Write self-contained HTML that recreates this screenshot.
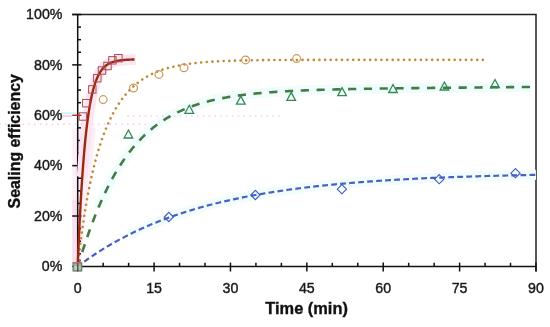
<!DOCTYPE html>
<html><head><meta charset="utf-8"><style>
html,body{margin:0;padding:0;background:#fff;}
svg{display:block;}
.tl{font-family:"Liberation Sans",sans-serif;font-size:14.2px;fill:#1a1a1a;stroke:#1a1a1a;stroke-width:0.4px;}
.at{font-family:"Liberation Sans",sans-serif;font-size:16.4px;font-weight:bold;fill:#111;stroke:#111;stroke-width:0.35px;}
</style></head><body>
<svg width="550" height="327" viewBox="0 0 550 327">
<path d="M72.3 262V128H96L90 180L81 262Z" fill="#fdeef7"/>
<rect x="72.3" y="200" width="5.2" height="62" fill="#fadff0"/>
<path d="M72.2 14.5H536V271.5" fill="none" stroke="#222" stroke-width="1.5"/>
<path d="M77.7 14.5V266.4H536" fill="none" stroke="#111" stroke-width="1.5"/>
<path d="M72.2 266.40H81.5" stroke="#111" stroke-width="1.5"/>
<path d="M77.7 253.80H81" stroke="#111" stroke-width="1.5"/>
<path d="M77.7 241.21H81" stroke="#111" stroke-width="1.5"/>
<path d="M77.7 228.61H81" stroke="#111" stroke-width="1.5"/>
<path d="M72.2 216.02H81.5" stroke="#111" stroke-width="1.5"/>
<path d="M77.7 203.42H81" stroke="#111" stroke-width="1.5"/>
<path d="M77.7 190.83H81" stroke="#111" stroke-width="1.5"/>
<path d="M77.7 178.23H81" stroke="#111" stroke-width="1.5"/>
<path d="M72.2 165.64H81.5" stroke="#111" stroke-width="1.5"/>
<path d="M77.7 153.04H81" stroke="#111" stroke-width="1.5"/>
<path d="M77.7 140.45H81" stroke="#111" stroke-width="1.5"/>
<path d="M77.7 127.85H81" stroke="#111" stroke-width="1.5"/>
<path d="M72.2 115.26H81.5" stroke="#c8202e" stroke-width="1.5"/>
<path d="M77.7 102.66H81" stroke="#111" stroke-width="1.5"/>
<path d="M77.7 90.07H81" stroke="#111" stroke-width="1.5"/>
<path d="M77.7 77.47H81" stroke="#111" stroke-width="1.5"/>
<path d="M72.2 64.88H81.5" stroke="#111" stroke-width="1.5"/>
<path d="M77.7 52.28H81" stroke="#111" stroke-width="1.5"/>
<path d="M77.7 39.69H81" stroke="#111" stroke-width="1.5"/>
<path d="M77.7 27.09H81" stroke="#111" stroke-width="1.5"/>
<path d="M72.2 14.50H81.5" stroke="#111" stroke-width="1.5"/>
<path d="M77.70 262.6V271.5" stroke="#111" stroke-width="1.5"/>
<path d="M103.16 262.8V266.4" stroke="#111" stroke-width="1.5"/>
<path d="M128.62 262.8V266.4" stroke="#111" stroke-width="1.5"/>
<path d="M154.08 262.6V271.5" stroke="#111" stroke-width="1.5"/>
<path d="M179.54 262.8V266.4" stroke="#111" stroke-width="1.5"/>
<path d="M205.00 262.8V266.4" stroke="#111" stroke-width="1.5"/>
<path d="M230.46 262.6V271.5" stroke="#111" stroke-width="1.5"/>
<path d="M255.92 262.8V266.4" stroke="#111" stroke-width="1.5"/>
<path d="M281.38 262.8V266.4" stroke="#111" stroke-width="1.5"/>
<path d="M306.84 262.6V271.5" stroke="#111" stroke-width="1.5"/>
<path d="M332.30 262.8V266.4" stroke="#111" stroke-width="1.5"/>
<path d="M357.76 262.8V266.4" stroke="#111" stroke-width="1.5"/>
<path d="M383.22 262.6V271.5" stroke="#111" stroke-width="1.5"/>
<path d="M408.68 262.8V266.4" stroke="#111" stroke-width="1.5"/>
<path d="M434.14 262.8V266.4" stroke="#111" stroke-width="1.5"/>
<path d="M459.60 262.6V271.5" stroke="#111" stroke-width="1.5"/>
<path d="M485.06 262.8V266.4" stroke="#111" stroke-width="1.5"/>
<path d="M510.52 262.8V266.4" stroke="#111" stroke-width="1.5"/>
<path d="M535.98 262.6V271.5" stroke="#111" stroke-width="1.5"/>
<path d="M61 113.3H76" stroke="#c6f5f5" stroke-width="2"/><path d="M61 116.2H72" stroke="#fccbed" stroke-width="2"/>
<polyline points="82.28,176.74 83.17,164.47 84.06,153.49 84.96,143.65 85.85,134.84 86.74,126.95 87.63,119.89 88.52,113.56 89.41,107.89 90.30,102.82 91.19,98.27 92.08,94.21 92.98,90.56 93.87,87.30 94.76,84.37 95.65,81.76 96.54,79.41 97.43,77.31 98.32,75.43 99.21,73.75 100.10,72.24 101.00,70.89 101.89,69.68 102.78,68.60 103.67,67.63 104.56,66.76 105.45,65.98 106.34,65.29 107.23,64.66 108.12,64.10 109.02,63.60 109.91,63.15 110.80,62.75 111.69,62.39 112.58,62.07 113.47,61.78 114.36,61.53 115.25,61.29 116.14,61.09 117.04,60.90 117.93,60.74 118.82,60.59 119.71,60.45 120.60,60.34 121.49,60.23 122.38,60.13 123.27,60.05 124.16,59.97 125.06,59.90 125.95,59.84 126.84,59.79 127.73,59.74 128.62,59.69 129.51,59.65 130.40,59.62 131.29,59.59 132.18,59.56 133.08,59.53 133.97,59.51 134.86,59.49 135.75,59.47" fill="none" stroke="#fce4f1" stroke-width="11" stroke-linejoin="round"/>
<polyline points="128.62,234.85 132.69,232.84 136.77,230.89 140.84,229.01 144.91,227.19 148.99,225.43 153.06,223.72 157.14,222.07 161.21,220.47 165.28,218.93 169.36,217.43 173.43,215.98 177.50,214.58 181.58,213.22 185.65,211.91 189.72,210.64 193.80,209.41 197.87,208.22 201.94,207.07 206.02,205.96 210.09,204.88 214.17,203.84 218.24,202.83 222.31,201.85 226.39,200.91 230.46,199.99 234.53,199.10 238.61,198.25 242.68,197.42 246.75,196.62 250.83,195.84 254.90,195.09 258.98,194.36 263.05,193.66 267.12,192.97 271.20,192.31 275.27,191.68 279.34,191.06 283.42,190.46 287.49,189.88 291.56,189.32 295.64,188.78 299.71,188.26 303.78,187.75 307.86,187.26 311.93,186.78 316.01,186.32 320.08,185.88 324.15,185.45 328.23,185.03 332.30,184.63 336.37,184.24 340.45,183.86 344.52,183.50 348.59,183.14 352.67,182.80 356.74,182.47 360.82,182.15 364.89,181.84 368.96,181.54 373.04,181.25 377.11,180.96 381.18,180.69 385.26,180.43 389.33,180.17 393.40,179.93 397.48,179.69 401.55,179.46 405.62,179.23 409.70,179.02 413.77,178.81 417.85,178.61 421.92,178.41 425.99,178.22 430.07,178.04 434.14,177.86 438.21,177.69 442.29,177.52 446.36,177.36 450.43,177.20 454.51,177.05 458.58,176.91 462.66,176.76 466.73,176.63 470.80,176.50 474.88,176.37 478.95,176.24 483.02,176.12 487.10,176.01 491.17,175.90 495.24,175.79 499.32,175.68 503.39,175.58 507.46,175.48 511.54,175.39 515.61,175.29 519.69,175.20 523.76,175.12 527.83,175.03 531.91,174.95 535.98,174.87" fill="none" stroke="#f1fdfd" stroke-width="10"/>
<polyline points="98.07,208.52 102.40,198.56 106.72,189.39 111.05,180.95 115.38,173.20 119.71,166.08 124.04,159.54 128.37,153.54 132.69,148.05 137.02,143.01 141.35,138.40 145.68,134.18 150.01,130.31 154.33,126.77 158.66,123.53 162.99,120.57 167.32,117.86 171.65,115.38 175.98,113.11 180.30,111.04 184.63,109.15 188.96,107.41 193.29,105.83 197.62,104.38 201.94,103.06 206.27,101.84 210.60,100.73 214.93,99.72 219.26,98.79 223.59,97.94 227.91,97.17 232.24,96.45 236.57,95.80 240.90,95.21 245.23,94.66 249.56,94.16 253.88,93.69 258.21,93.27 262.54,92.88 266.87,92.53 271.20,92.20 275.52,91.89 279.85,91.61 284.18,91.36 288.51,91.12 292.84,90.90 297.17,90.70 301.49,90.51 305.82,90.33 310.15,90.17 314.48,90.02 318.81,89.88 323.13,89.74 327.46,89.62 331.79,89.50 336.12,89.39 340.45,89.29 344.78,89.20 349.10,89.10 353.43,89.02 357.76,88.93 362.09,88.86 366.42,88.78 370.74,88.71 375.07,88.64 379.40,88.58 383.73,88.51 388.06,88.45 392.39,88.39 396.71,88.33 401.04,88.28 405.37,88.23 409.70,88.17 414.03,88.12 418.35,88.07 422.68,88.02 427.01,87.97 431.34,87.93 435.67,87.88 440.00,87.83 444.32,87.79 448.65,87.74 452.98,87.70 457.31,87.66 461.64,87.61 465.96,87.57 470.29,87.53 474.62,87.49 478.95,87.44 483.28,87.40 487.61,87.36 491.93,87.32 496.26,87.28 500.59,87.24 504.92,87.20 509.25,87.16 513.58,87.12 517.90,87.08 522.23,87.04 526.56,87.00 530.89,86.96" fill="none" stroke="#f1fdfd" stroke-width="10"/>
<path d="M0 124.3H150M128 116.1H280" stroke="#fbd0ee" stroke-width="1.9" stroke-dasharray="0.01 5.8" stroke-linecap="round"/>
<polyline points="77.70,266.40 78.85,265.54 79.99,264.69 81.14,263.84 82.28,263.00 83.43,262.17 84.57,261.35 85.72,260.53 86.87,259.73 88.01,258.93 89.16,258.13 90.30,257.35 91.45,256.57 92.59,255.80 93.74,255.03 94.89,254.28 96.03,253.53 97.18,252.78 98.32,252.05 99.47,251.32 100.61,250.60 101.76,249.88 102.91,249.17 104.05,248.47 105.20,247.77 106.34,247.08 107.49,246.39 108.63,245.72 109.78,245.05 110.93,244.38 112.07,243.72 113.22,243.07 114.36,242.42 115.51,241.78 116.65,241.14 117.80,240.51 118.95,239.89 120.09,239.27 121.24,238.66 122.38,238.05 123.53,237.45 124.67,236.86 125.82,236.27 126.97,235.68 128.11,235.10 129.26,234.53 130.40,233.96 131.55,233.39 132.69,232.84 133.84,232.28 134.99,231.73 136.13,231.19 137.28,230.65 138.42,230.12 139.57,229.59 140.71,229.07 141.86,228.55 143.00,228.03 144.15,227.53 145.30,227.02 146.44,226.52 147.59,226.02 148.73,225.53 149.88,225.05 151.02,224.57 152.17,224.09 153.32,223.62 154.46,223.15 155.61,222.68 156.75,222.22 157.90,221.77 159.04,221.31 160.19,220.87 161.34,220.42 162.48,219.98 163.63,219.55 164.77,219.12 165.92,218.69 167.06,218.27 168.21,217.85 169.36,217.43 170.50,217.02 171.65,216.61 172.79,216.20 173.94,215.80 175.08,215.41 176.23,215.01 177.38,214.62 178.52,214.24 179.67,213.85 180.81,213.48 181.96,213.10 183.10,212.73 184.25,212.36 185.40,211.99 186.54,211.63 187.69,211.27 188.83,210.92 189.98,210.56 191.12,210.22 192.27,209.87 193.42,209.53 194.56,209.19 195.71,208.85 196.85,208.52 198.00,208.19 199.14,207.86 200.29,207.54 201.44,207.21 202.58,206.90 203.73,206.58 204.87,206.27 206.02,205.96 207.16,205.65 208.31,205.35 209.46,205.05 210.60,204.75 211.75,204.45 212.89,204.16 214.04,203.87 215.18,203.58 216.33,203.30 217.48,203.01 218.62,202.73 219.77,202.46 220.91,202.18 222.06,201.91 223.20,201.64 224.35,201.37 225.50,201.11 226.64,200.85 227.79,200.59 228.93,200.33 230.08,200.07 231.22,199.82 232.37,199.57 233.52,199.32 234.66,199.08 235.81,198.83 236.95,198.59 238.10,198.35 239.24,198.12 240.39,197.88 241.54,197.65 242.68,197.42 243.83,197.19 244.97,196.96 246.12,196.74 247.26,196.52 248.41,196.30 249.56,196.08 250.70,195.86 251.85,195.65 252.99,195.44 254.14,195.23 255.28,195.02 256.43,194.81 257.57,194.61 258.72,194.40 259.87,194.20 261.01,194.00 262.16,193.81 263.30,193.61 264.45,193.42 265.59,193.23 266.74,193.04 267.89,192.85 269.03,192.66 270.18,192.48 271.32,192.29 272.47,192.11 273.61,191.93 274.76,191.76 275.91,191.58 277.05,191.40 278.20,191.23 279.34,191.06 280.49,190.89 281.63,190.72 282.78,190.55 283.93,190.39 285.07,190.22 286.22,190.06 287.36,189.90 288.51,189.74 289.65,189.58 290.80,189.43 291.95,189.27 293.09,189.12 294.24,188.97 295.38,188.82 296.53,188.67 297.67,188.52 298.82,188.37 299.97,188.23 301.11,188.08 302.26,187.94 303.40,187.80 304.55,187.66 305.69,187.52 306.84,187.38 307.99,187.24 309.13,187.11 310.28,186.98 311.42,186.84 312.57,186.71 313.71,186.58 314.86,186.45 316.01,186.32 317.15,186.20 318.30,186.07 319.44,185.95 320.59,185.82 321.73,185.70 322.88,185.58 324.03,185.46 325.17,185.34 326.32,185.23 327.46,185.11 328.61,184.99 329.75,184.88 330.90,184.77 332.05,184.65 333.19,184.54 334.34,184.43 335.48,184.32 336.63,184.21 337.77,184.11 338.92,184.00 340.07,183.90 341.21,183.79 342.36,183.69 343.50,183.59 344.65,183.48 345.79,183.38 346.94,183.28 348.09,183.19 349.23,183.09 350.38,182.99 351.52,182.89 352.67,182.80 353.81,182.70 354.96,182.61 356.11,182.52 357.25,182.43 358.40,182.34 359.54,182.25 360.69,182.16 361.83,182.07 362.98,181.98 364.12,181.89 365.27,181.81 366.42,181.72 367.56,181.64 368.71,181.56 369.85,181.47 371.00,181.39 372.14,181.31 373.29,181.23 374.44,181.15 375.58,181.07 376.73,180.99 377.87,180.91 379.02,180.84 380.16,180.76 381.31,180.68 382.46,180.61 383.60,180.54 384.75,180.46 385.89,180.39 387.04,180.32 388.18,180.25 389.33,180.17 390.48,180.10 391.62,180.03 392.77,179.97 393.91,179.90 395.06,179.83 396.20,179.76 397.35,179.70 398.50,179.63 399.64,179.57 400.79,179.50 401.93,179.44 403.08,179.37 404.22,179.31 405.37,179.25 406.52,179.19 407.66,179.13 408.81,179.06 409.95,179.00 411.10,178.95 412.24,178.89 413.39,178.83 414.54,178.77 415.68,178.71 416.83,178.66 417.97,178.60 419.12,178.54 420.26,178.49 421.41,178.43 422.56,178.38 423.70,178.33 424.85,178.27 425.99,178.22 427.14,178.17 428.28,178.12 429.43,178.06 430.58,178.01 431.72,177.96 432.87,177.91 434.01,177.86 435.16,177.82 436.30,177.77 437.45,177.72 438.60,177.67 439.74,177.62 440.89,177.58 442.03,177.53 443.18,177.48 444.32,177.44 445.47,177.39 446.62,177.35 447.76,177.30 448.91,177.26 450.05,177.22 451.20,177.17 452.34,177.13 453.49,177.09 454.64,177.05 455.78,177.01 456.93,176.97 458.07,176.92 459.22,176.88 460.36,176.84 461.51,176.80 462.66,176.76 463.80,176.73 464.95,176.69 466.09,176.65 467.24,176.61 468.38,176.57 469.53,176.54 470.68,176.50 471.82,176.46 472.97,176.43 474.11,176.39 475.26,176.36 476.40,176.32 477.55,176.29 478.69,176.25 479.84,176.22 480.99,176.18 482.13,176.15 483.28,176.12 484.42,176.08 485.57,176.05 486.71,176.02 487.86,175.99 489.01,175.95 490.15,175.92 491.30,175.89 492.44,175.86 493.59,175.83 494.73,175.80 495.88,175.77 497.03,175.74 498.17,175.71 499.32,175.68 500.46,175.65 501.61,175.62 502.75,175.60 503.90,175.57 505.05,175.54 506.19,175.51 507.34,175.48 508.48,175.46 509.63,175.43 510.77,175.40 511.92,175.38 513.07,175.35 514.21,175.32 515.36,175.30 516.50,175.27 517.65,175.25 518.79,175.22 519.94,175.20 521.09,175.17 522.23,175.15 523.38,175.13 524.52,175.10 525.67,175.08 526.81,175.05 527.96,175.03 529.11,175.01 530.25,174.99 531.40,174.96 532.54,174.94 533.69,174.92 534.83,174.90 535.98,174.87" fill="none" stroke="#4b5ec2" stroke-width="2.2" stroke-dasharray="5.8 3.225" stroke-dashoffset="0.9"/>
<polyline points="77.70,266.40 78.83,262.90 79.97,259.31 81.10,255.73 82.23,252.18 83.36,248.68 84.50,245.23 85.63,241.84 86.76,238.51 87.90,235.23 89.03,232.02 90.16,228.86 91.30,225.77 92.43,222.73 93.56,219.76 94.69,216.85 95.83,213.99 96.96,211.19 98.09,208.45 99.23,205.77 100.36,203.15 101.49,200.58 102.63,198.06 103.76,195.60 104.89,193.18 106.02,190.83 107.16,188.52 108.29,186.26 109.42,184.05 110.56,181.89 111.69,179.77 112.82,177.70 113.96,175.68 115.09,173.70 116.22,171.77 117.35,169.88 118.49,168.03 119.62,166.22 120.75,164.45 121.89,162.72 123.02,161.03 124.15,159.37 125.28,157.76 126.42,156.18 127.55,154.63 128.68,153.12 129.82,151.65 130.95,150.21 132.08,148.80 133.22,147.42 134.35,146.07 135.48,144.75 136.61,143.47 137.75,142.21 138.88,140.98 140.01,139.78 141.15,138.61 142.28,137.46 143.41,136.34 144.55,135.25 145.68,134.18 146.81,133.13 147.94,132.11 149.08,131.11 150.21,130.14 151.34,129.18 152.48,128.25 153.61,127.34 154.74,126.45 155.87,125.58 157.01,124.74 158.14,123.91 159.27,123.10 160.41,122.31 161.54,121.53 162.67,120.78 163.81,120.04 164.94,119.32 166.07,118.62 167.20,117.93 168.34,117.26 169.47,116.60 170.60,115.96 171.74,115.33 172.87,114.72 174.00,114.12 175.14,113.54 176.27,112.97 177.40,112.41 178.53,111.87 179.67,111.34 180.80,110.82 181.93,110.31 183.07,109.81 184.20,109.33 185.33,108.86 186.47,108.39 187.60,107.94 188.73,107.50 189.86,107.07 191.00,106.65 192.13,106.24 193.26,105.84 194.40,105.45 195.53,105.06 196.66,104.69 197.79,104.32 198.93,103.97 200.06,103.62 201.19,103.28 202.33,102.94 203.46,102.62 204.59,102.30 205.73,101.99 206.86,101.69 207.99,101.39 209.12,101.10 210.26,100.82 211.39,100.54 212.52,100.27 213.66,100.01 214.79,99.75 215.92,99.50 217.06,99.25 218.19,99.01 219.32,98.78 220.45,98.55 221.59,98.33 222.72,98.11 223.85,97.89 224.99,97.68 226.12,97.48 227.25,97.28 228.39,97.09 229.52,96.90 230.65,96.71 231.78,96.53 232.92,96.35 234.05,96.18 235.18,96.01 236.32,95.84 237.45,95.68 238.58,95.52 239.71,95.36 240.85,95.21 241.98,95.06 243.11,94.92 244.25,94.78 245.38,94.64 246.51,94.50 247.65,94.37 248.78,94.24 249.91,94.12 251.04,93.99 252.18,93.87 253.31,93.75 254.44,93.64 255.58,93.53 256.71,93.41 257.84,93.31 258.98,93.20 260.11,93.10 261.24,93.00 262.37,92.90 263.51,92.80 264.64,92.71 265.77,92.61 266.91,92.52 268.04,92.43 269.17,92.35 270.30,92.26 271.44,92.18 272.57,92.10 273.70,92.02 274.84,91.94 275.97,91.86 277.10,91.79 278.24,91.72 279.37,91.64 280.50,91.57 281.63,91.51 282.77,91.44 283.90,91.37 285.03,91.31 286.17,91.25 287.30,91.18 288.43,91.12 289.57,91.06 290.70,91.01 291.83,90.95 292.96,90.89 294.10,90.84 295.23,90.78 296.36,90.73 297.50,90.68 298.63,90.63 299.76,90.58 300.90,90.53 302.03,90.48 303.16,90.44 304.29,90.39 305.43,90.35 306.56,90.30 307.69,90.26 308.83,90.22 309.96,90.18 311.09,90.13 312.22,90.09 313.36,90.06 314.49,90.02 315.62,89.98 316.76,89.94 317.89,89.90 319.02,89.87 320.16,89.83 321.29,89.80 322.42,89.76 323.55,89.73 324.69,89.70 325.82,89.67 326.95,89.63 328.09,89.60 329.22,89.57 330.35,89.54 331.49,89.51 332.62,89.48 333.75,89.45 334.88,89.43 336.02,89.40 337.15,89.37 338.28,89.34 339.42,89.32 340.55,89.29 341.68,89.26 342.81,89.24 343.95,89.21 345.08,89.19 346.21,89.16 347.35,89.14 348.48,89.12 349.61,89.09 350.75,89.07 351.88,89.05 353.01,89.03 354.14,89.00 355.28,88.98 356.41,88.96 357.54,88.94 358.68,88.92 359.81,88.90 360.94,88.88 362.08,88.86 363.21,88.84 364.34,88.82 365.47,88.80 366.61,88.78 367.74,88.76 368.87,88.74 370.01,88.72 371.14,88.70 372.27,88.69 373.41,88.67 374.54,88.65 375.67,88.63 376.80,88.61 377.94,88.60 379.07,88.58 380.20,88.56 381.34,88.55 382.47,88.53 383.60,88.51 384.73,88.50 385.87,88.48 387.00,88.47 388.13,88.45 389.27,88.43 390.40,88.42 391.53,88.40 392.67,88.39 393.80,88.37 394.93,88.36 396.06,88.34 397.20,88.33 398.33,88.31 399.46,88.30 400.60,88.28 401.73,88.27 402.86,88.26 404.00,88.24 405.13,88.23 406.26,88.21 407.39,88.20 408.53,88.19 409.66,88.17 410.79,88.16 411.93,88.15 413.06,88.13 414.19,88.12 415.33,88.11 416.46,88.09 417.59,88.08 418.72,88.07 419.86,88.05 420.99,88.04 422.12,88.03 423.26,88.02 424.39,88.00 425.52,87.99 426.65,87.98 427.79,87.97 428.92,87.95 430.05,87.94 431.19,87.93 432.32,87.92 433.45,87.90 434.59,87.89 435.72,87.88 436.85,87.87 437.98,87.86 439.12,87.84 440.25,87.83 441.38,87.82 442.52,87.81 443.65,87.80 444.78,87.78 445.92,87.77 447.05,87.76 448.18,87.75 449.31,87.74 450.45,87.73 451.58,87.71 452.71,87.70 453.85,87.69 454.98,87.68 456.11,87.67 457.24,87.66 458.38,87.65 459.51,87.63 460.64,87.62 461.78,87.61 462.91,87.60 464.04,87.59 465.18,87.58 466.31,87.57 467.44,87.56 468.57,87.54 469.71,87.53 470.84,87.52 471.97,87.51 473.11,87.50 474.24,87.49 475.37,87.48 476.51,87.47 477.64,87.46 478.77,87.45 479.90,87.44 481.04,87.42 482.17,87.41 483.30,87.40 484.44,87.39 485.57,87.38 486.70,87.37 487.84,87.36 488.97,87.35 490.10,87.34 491.23,87.33 492.37,87.32 493.50,87.31 494.63,87.30 495.77,87.28 496.90,87.27 498.03,87.26 499.16,87.25 500.30,87.24 501.43,87.23 502.56,87.22 503.70,87.21 504.83,87.20 505.96,87.19 507.10,87.18 508.23,87.17 509.36,87.16 510.49,87.15 511.63,87.14 512.76,87.13 513.89,87.12 515.03,87.11 516.16,87.09 517.29,87.08 518.43,87.07 519.56,87.06 520.69,87.05 521.82,87.04 522.96,87.03 524.09,87.02 525.22,87.01 526.36,87.00 527.49,86.99 528.62,86.98 529.76,86.97 530.89,86.96" fill="none" stroke="#467a45" stroke-width="2.6" stroke-dasharray="8.2 7.59" stroke-dashoffset="0.74"/>
<polyline points="77.70,266.40 78.71,257.31 79.73,248.73 80.74,240.64 81.75,233.00 82.77,225.78 83.78,218.93 84.79,212.45 85.81,206.29 86.82,200.45 87.83,194.89 88.85,189.60 89.86,184.57 90.87,179.77 91.89,175.19 92.90,170.82 93.91,166.65 94.93,162.66 95.94,158.84 96.95,155.19 97.97,151.69 98.98,148.34 99.99,145.12 101.01,142.04 102.02,139.08 103.03,136.24 104.05,133.51 105.06,130.89 106.07,128.37 107.09,125.95 108.10,123.62 109.11,121.37 110.13,119.22 111.14,117.14 112.15,115.14 113.17,113.21 114.18,111.36 115.19,109.57 116.21,107.85 117.22,106.19 118.23,104.59 119.25,103.04 120.26,101.56 121.27,100.12 122.29,98.74 123.30,97.40 124.31,96.11 125.33,94.87 126.34,93.67 127.35,92.51 128.37,91.40 129.38,90.32 130.39,89.28 131.41,88.27 132.42,87.30 133.43,86.37 134.45,85.46 135.46,84.59 136.47,83.75 137.49,82.93 138.50,82.15 139.51,81.39 140.53,80.66 141.54,79.95 142.55,79.27 143.57,78.61 144.58,77.97 145.59,77.35 146.60,76.76 147.62,76.18 148.63,75.63 149.64,75.09 150.66,74.57 151.67,74.07 152.68,73.59 153.70,73.13 154.71,72.67 155.72,72.24 156.74,71.82 157.75,71.41 158.76,71.02 159.78,70.64 160.79,70.27 161.80,69.92 162.82,69.58 163.83,69.25 164.84,68.93 165.86,68.62 166.87,68.32 167.88,68.04 168.90,67.76 169.91,67.49 170.92,67.23 171.94,66.98 172.95,66.74 173.96,66.50 174.98,66.28 175.99,66.06 177.00,65.85 178.02,65.64 179.03,65.45 180.04,65.26 181.06,65.07 182.07,64.90 183.08,64.72 184.10,64.56 185.11,64.40 186.12,64.24 187.14,64.09 188.15,63.95 189.16,63.81 190.18,63.67 191.19,63.54 192.20,63.42 193.22,63.30 194.23,63.18 195.24,63.07 196.26,62.96 197.27,62.85 198.28,62.75 199.30,62.65 200.31,62.55 201.32,62.46 202.34,62.37 203.35,62.29 204.36,62.20 205.38,62.12 206.39,62.05 207.40,61.97 208.42,61.90 209.43,61.83 210.44,61.76 211.46,61.69 212.47,61.63 213.48,61.57 214.50,61.51 215.51,61.45 216.52,61.40 217.54,61.35 218.55,61.29 219.56,61.25 220.58,61.20 221.59,61.15 222.60,61.11 223.62,61.06 224.63,61.02 225.64,60.98 226.66,60.94 227.67,60.90 228.68,60.87 229.70,60.83 230.71,60.80 231.72,60.77 232.74,60.73 233.75,60.70 234.76,60.67 235.78,60.64 236.79,60.62 237.80,60.59 238.82,60.56 239.83,60.54 240.84,60.52 241.86,60.49 242.87,60.47 243.88,60.45 244.90,60.43 245.91,60.41 246.92,60.39 247.94,60.37 248.95,60.35 249.96,60.33 250.98,60.32 251.99,60.30 253.00,60.28 254.02,60.27 255.03,60.25 256.04,60.24 257.06,60.22 258.07,60.21 259.08,60.20 260.10,60.19 261.11,60.17 262.12,60.16 263.14,60.15 264.15,60.14 265.16,60.13 266.18,60.12 267.19,60.11 268.20,60.10 269.22,60.09 270.23,60.08 271.24,60.07 272.26,60.06 273.27,60.06 274.28,60.05 275.30,60.04 276.31,60.03 277.32,60.03 278.33,60.02 279.35,60.01 280.36,60.01 281.37,60.00 282.39,60.00 283.40,59.99 284.41,59.98 285.43,59.98 286.44,59.97 287.45,59.97 288.47,59.96 289.48,59.96 290.49,59.96 291.51,59.95 292.52,59.95 293.53,59.94 294.55,59.94 295.56,59.94 296.57,59.93 297.59,59.93 298.60,59.92 299.61,59.92 300.63,59.92 301.64,59.92 302.65,59.91 303.67,59.91 304.68,59.91 305.69,59.90 306.71,59.90 307.72,59.90 308.73,59.90 309.75,59.89 310.76,59.89 311.77,59.89 312.79,59.89 313.80,59.89 314.81,59.88 315.83,59.88 316.84,59.88 317.85,59.88 318.87,59.88 319.88,59.88 320.89,59.87 321.91,59.87 322.92,59.87 323.93,59.87 324.95,59.87 325.96,59.87 326.97,59.86 327.99,59.86 329.00,59.86 330.01,59.86 331.03,59.86 332.04,59.86 333.05,59.86 334.07,59.86 335.08,59.86 336.09,59.86 337.11,59.85 338.12,59.85 339.13,59.85 340.15,59.85 341.16,59.85 342.17,59.85 343.19,59.85 344.20,59.85 345.21,59.85 346.23,59.85 347.24,59.85 348.25,59.85 349.27,59.85 350.28,59.84 351.29,59.84 352.31,59.84 353.32,59.84 354.33,59.84 355.35,59.84 356.36,59.84 357.37,59.84 358.39,59.84 359.40,59.84 360.41,59.84 361.43,59.84 362.44,59.84 363.45,59.84 364.47,59.84 365.48,59.84 366.49,59.84 367.51,59.84 368.52,59.84 369.53,59.84 370.55,59.84 371.56,59.84 372.57,59.84 373.59,59.84 374.60,59.84 375.61,59.84 376.63,59.83 377.64,59.83 378.65,59.83 379.67,59.83 380.68,59.83 381.69,59.83 382.71,59.83 383.72,59.83 384.73,59.83 385.75,59.83 386.76,59.83 387.77,59.83 388.79,59.83 389.80,59.83 390.81,59.83 391.83,59.83 392.84,59.83 393.85,59.83 394.87,59.83 395.88,59.83 396.89,59.83 397.91,59.83 398.92,59.83 399.93,59.83 400.95,59.83 401.96,59.83 402.97,59.83 403.99,59.83 405.00,59.83 406.01,59.83 407.03,59.83 408.04,59.83 409.05,59.83 410.07,59.83 411.08,59.83 412.09,59.83 413.10,59.83 414.12,59.83 415.13,59.83 416.14,59.83 417.16,59.83 418.17,59.83 419.18,59.83 420.20,59.83 421.21,59.83 422.22,59.83 423.24,59.83 424.25,59.83 425.26,59.83 426.28,59.83 427.29,59.83 428.30,59.83 429.32,59.83 430.33,59.83 431.34,59.83 432.36,59.83 433.37,59.83 434.38,59.83 435.40,59.83 436.41,59.83 437.42,59.83 438.44,59.83 439.45,59.83 440.46,59.83 441.48,59.83 442.49,59.83 443.50,59.83 444.52,59.83 445.53,59.83 446.54,59.83 447.56,59.83 448.57,59.83 449.58,59.83 450.60,59.83 451.61,59.83 452.62,59.83 453.64,59.83 454.65,59.83 455.66,59.83 456.68,59.83 457.69,59.83 458.70,59.83 459.72,59.83 460.73,59.83 461.74,59.83 462.76,59.83 463.77,59.83 464.78,59.83 465.80,59.83 466.81,59.83 467.82,59.83 468.84,59.83 469.85,59.83 470.86,59.83 471.88,59.83 472.89,59.83 473.90,59.83 474.92,59.83 475.93,59.83 476.94,59.83 477.96,59.83 478.97,59.83 479.98,59.83 481.00,59.83 482.01,59.83 483.02,59.83" fill="none" stroke="#c08a2e" stroke-width="2.6" stroke-dasharray="0.01 5.625" stroke-dashoffset="-0.21" stroke-linecap="round"/>
<polyline points="77.70,266.40 77.98,259.25 78.27,252.34 78.55,245.68 78.84,239.24 79.12,233.03 79.40,227.03 79.69,221.24 79.97,215.64 80.25,210.25 80.54,205.03 80.82,200.00 81.11,195.14 81.39,190.45 81.67,185.92 81.96,181.55 82.24,177.33 82.53,173.25 82.81,169.32 83.09,165.52 83.38,161.85 83.66,158.31 83.95,154.89 84.23,151.59 84.51,148.40 84.80,145.33 85.08,142.36 85.36,139.49 85.65,136.72 85.93,134.05 86.22,131.47 86.50,128.97 86.78,126.57 87.07,124.25 87.35,122.00 87.64,119.84 87.92,117.75 88.20,115.73 88.49,113.78 88.77,111.90 89.06,110.09 89.34,108.33 89.62,106.64 89.91,105.00 90.19,103.43 90.47,101.90 90.76,100.43 91.04,99.01 91.33,97.64 91.61,96.32 91.89,95.04 92.18,93.81 92.46,92.61 92.75,91.46 93.03,90.35 93.31,89.28 93.60,88.25 93.88,87.25 94.16,86.28 94.45,85.35 94.73,84.45 95.02,83.58 95.30,82.75 95.58,81.94 95.87,81.16 96.15,80.40 96.44,79.67 96.72,78.97 97.00,78.29 97.29,77.64 97.57,77.00 97.86,76.39 98.14,75.80 98.42,75.23 98.71,74.68 98.99,74.15 99.27,73.64 99.56,73.15 99.84,72.67 100.13,72.21 100.41,71.76 100.69,71.33 100.98,70.92 101.26,70.52 101.55,70.13 101.83,69.75 102.11,69.39 102.40,69.05 102.68,68.71 102.97,68.39 103.25,68.07 103.53,67.77 103.82,67.48 104.10,67.20 104.38,66.92 104.67,66.66 104.95,66.41 105.24,66.16 105.52,65.93 105.80,65.70 106.09,65.48 106.37,65.26 106.66,65.06 106.94,64.86 107.22,64.67 107.51,64.48 107.79,64.30 108.08,64.13 108.36,63.97 108.64,63.81 108.93,63.65 109.21,63.50 109.49,63.36 109.78,63.22 110.06,63.08 110.35,62.95 110.63,62.83 110.91,62.70 111.20,62.59 111.48,62.47 111.77,62.36 112.05,62.26 112.33,62.16 112.62,62.06 112.90,61.96 113.18,61.87 113.47,61.78 113.75,61.70 114.04,61.62 114.32,61.54 114.60,61.46 114.89,61.39 115.17,61.31 115.46,61.25 115.74,61.18 116.02,61.11 116.31,61.05 116.59,60.99 116.88,60.93 117.16,60.88 117.44,60.82 117.73,60.77 118.01,60.72 118.29,60.67 118.58,60.63 118.86,60.58 119.15,60.54 119.43,60.49 119.71,60.45 120.00,60.41 120.28,60.38 120.57,60.34 120.85,60.30 121.13,60.27 121.42,60.24 121.70,60.20 121.99,60.17 122.27,60.14 122.55,60.12 122.84,60.09 123.12,60.06 123.40,60.04 123.69,60.01 123.97,59.99 124.26,59.96 124.54,59.94 124.82,59.92 125.11,59.90 125.39,59.88 125.68,59.86 125.96,59.84 126.24,59.82 126.53,59.80 126.81,59.79 127.09,59.77 127.38,59.75 127.66,59.74 127.95,59.72 128.23,59.71 128.51,59.70 128.80,59.68 129.08,59.67 129.37,59.66 129.65,59.65 129.93,59.63 130.22,59.62 130.50,59.61 130.79,59.60 131.07,59.59 131.35,59.58 131.64,59.57 131.92,59.56 132.20,59.56 132.49,59.55 132.77,59.54 133.06,59.53 133.34,59.52 133.62,59.52 133.91,59.51 134.19,59.50 134.48,59.50" fill="none" stroke="#982a14" stroke-width="2.4"/>
<rect x="79.20" y="112.80" width="7.4" height="7.4" fill="none" stroke="#b04a50" stroke-width="1"/>
<rect x="82.60" y="99.50" width="7.4" height="7.4" fill="none" stroke="#b04a50" stroke-width="1"/>
<rect x="88.60" y="85.70" width="7.4" height="7.4" fill="none" stroke="#b04a50" stroke-width="1"/>
<rect x="93.60" y="74.50" width="7.4" height="7.4" fill="none" stroke="#b04a50" stroke-width="1"/>
<rect x="98.30" y="66.80" width="7.4" height="7.4" fill="none" stroke="#b04a50" stroke-width="1"/>
<rect x="103.80" y="62.30" width="7.4" height="7.4" fill="none" stroke="#b04a50" stroke-width="1"/>
<rect x="108.70" y="56.60" width="7.4" height="7.4" fill="none" stroke="#b04a50" stroke-width="1"/>
<rect x="114.70" y="54.50" width="7.4" height="7.4" fill="none" stroke="#b04a50" stroke-width="1"/>
<circle cx="103.20" cy="99.60" r="3.9" fill="none" stroke="#cc9a60" stroke-width="1.25"/>
<circle cx="133.50" cy="88.00" r="3.9" fill="none" stroke="#cc9a60" stroke-width="1.25"/>
<circle cx="158.90" cy="74.40" r="3.9" fill="none" stroke="#cc9a60" stroke-width="1.25"/>
<circle cx="184.00" cy="67.70" r="3.9" fill="none" stroke="#cc9a60" stroke-width="1.25"/>
<circle cx="245.50" cy="59.90" r="3.9" fill="none" stroke="#cc9a60" stroke-width="1.25"/>
<circle cx="296.60" cy="58.60" r="3.9" fill="none" stroke="#cc9a60" stroke-width="1.25"/>
<path d="M128.40 130.00L132.70 138.00H124.10Z" fill="none" stroke="#2f8a55" stroke-width="1.3" stroke-linejoin="miter"/>
<path d="M189.30 105.30L193.60 113.30H185.00Z" fill="none" stroke="#2f8a55" stroke-width="1.3" stroke-linejoin="miter"/>
<path d="M240.80 96.10L245.10 104.10H236.50Z" fill="none" stroke="#2f8a55" stroke-width="1.3" stroke-linejoin="miter"/>
<path d="M291.20 92.40L295.50 100.40H286.90Z" fill="none" stroke="#2f8a55" stroke-width="1.3" stroke-linejoin="miter"/>
<path d="M342.10 87.70L346.40 95.70H337.80Z" fill="none" stroke="#2f8a55" stroke-width="1.3" stroke-linejoin="miter"/>
<path d="M393.00 84.50L397.30 92.50H388.70Z" fill="none" stroke="#2f8a55" stroke-width="1.3" stroke-linejoin="miter"/>
<path d="M444.40 82.00L448.70 90.00H440.10Z" fill="none" stroke="#2f8a55" stroke-width="1.3" stroke-linejoin="miter"/>
<path d="M495.00 79.50L499.30 87.50H490.70Z" fill="none" stroke="#2f8a55" stroke-width="1.3" stroke-linejoin="miter"/>
<path d="M168.80 212.40L173.40 217.00L168.80 221.60L164.20 217.00Z" fill="none" stroke="#3f5fc4" stroke-width="1.15"/>
<path d="M255.40 190.40L260.00 195.00L255.40 199.60L250.80 195.00Z" fill="none" stroke="#3f5fc4" stroke-width="1.15"/>
<path d="M341.90 184.60L346.50 189.20L341.90 193.80L337.30 189.20Z" fill="none" stroke="#3f5fc4" stroke-width="1.15"/>
<path d="M439.20 174.60L443.80 179.20L439.20 183.80L434.60 179.20Z" fill="none" stroke="#3f5fc4" stroke-width="1.15"/>
<path d="M515.50 168.60L520.10 173.20L515.50 177.80L510.90 173.20Z" fill="none" stroke="#3f5fc4" stroke-width="1.15"/>
<rect x="73.1" y="262.8" width="8.6" height="8.2" fill="#a3b0a1" stroke="#667c64" stroke-width="1.2"/>
<rect x="74.6" y="266.2" width="2.4" height="3.4" fill="#c9d3c8"/>
<rect x="79" y="266.2" width="1.8" height="3.4" fill="#b8c4b8"/>
<path d="M77.7 263V271" stroke="#3a4a3a" stroke-width="1.2"/>
<path d="M72.5 262.6H82" stroke="#c46a78" stroke-width="1.2"/>
<text transform="translate(62.4 271.10) scale(1 1.09)" text-anchor="end" class="tl">0%</text>
<text transform="translate(62.4 220.72) scale(1 1.09)" text-anchor="end" class="tl">20%</text>
<text transform="translate(62.4 170.34) scale(1 1.09)" text-anchor="end" class="tl">40%</text>
<text transform="translate(62.4 119.96) scale(1 1.09)" text-anchor="end" class="tl">60%</text>
<text transform="translate(62.4 69.58) scale(1 1.09)" text-anchor="end" class="tl">80%</text>
<text transform="translate(62.4 19.20) scale(1 1.09)" text-anchor="end" class="tl">100%</text>
<text transform="translate(77.70 292.8) scale(1 1.09)" text-anchor="middle" class="tl">0</text>
<text transform="translate(154.08 292.8) scale(1 1.09)" text-anchor="middle" class="tl">15</text>
<text transform="translate(230.46 292.8) scale(1 1.09)" text-anchor="middle" class="tl">30</text>
<text transform="translate(306.84 292.8) scale(1 1.09)" text-anchor="middle" class="tl">45</text>
<text transform="translate(383.22 292.8) scale(1 1.09)" text-anchor="middle" class="tl">60</text>
<text transform="translate(459.60 292.8) scale(1 1.09)" text-anchor="middle" class="tl">75</text>
<text transform="translate(535.98 292.8) scale(1 1.09)" text-anchor="middle" class="tl">90</text>
<text x="306.6" y="314" text-anchor="middle" class="at">Time (min)</text>
<text transform="translate(20.2 141.3) rotate(-90)" text-anchor="middle" class="at" style="font-size:15.9px">Sealing efficiency</text>
</svg>
</body></html>
